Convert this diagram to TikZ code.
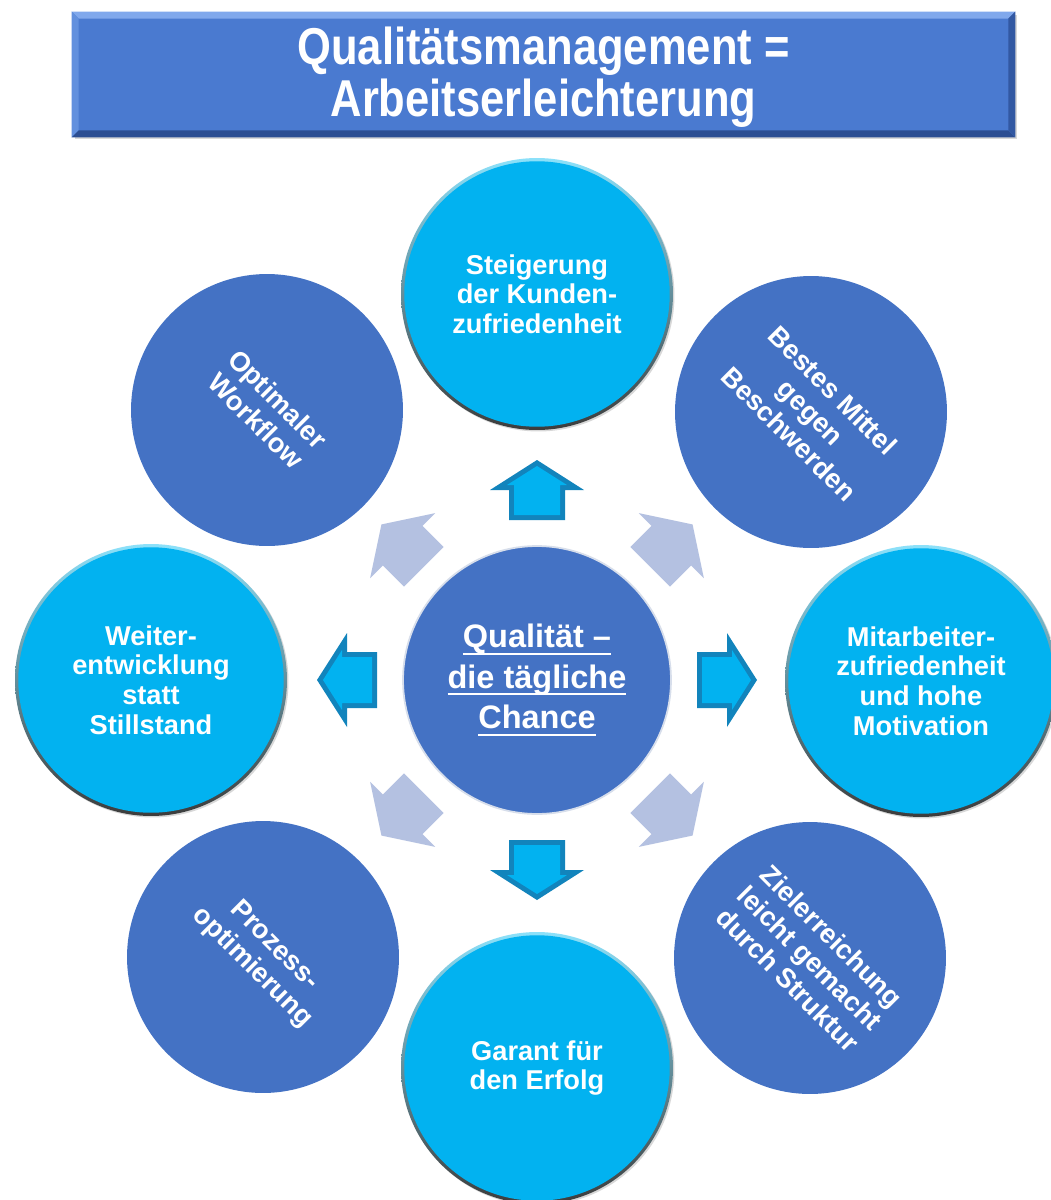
\documentclass[tikz,border=0pt]{standalone}
\usepackage{fontspec}
\setmainfont{Liberation Sans}
\newfontfamily\titlefamily[FakeStretch=0.84]{Liberation Sans}
\usetikzlibrary{shadows,calc}
\definecolor{dkblue}{RGB}{68,114,196}
\definecolor{cyanmain}{RGB}{2,178,240}
\definecolor{cyanlight}{RGB}{140,225,250}
\definecolor{rimgray}{RGB}{60,60,60}
\definecolor{rimmid}{RGB}{70,120,140}
\definecolor{arrowdark}{RGB}{18,132,188}
\definecolor{palearrow}{RGB}{180,193,225}
\definecolor{titleblue}{RGB}{74,122,208}
\definecolor{bevtop}{RGB}{128,168,236}
\definecolor{bevleft}{RGB}{98,144,222}
\definecolor{bevbottom}{RGB}{44,78,146}
\definecolor{bevright}{RGB}{50,88,162}
\definecolor{centerrim}{RGB}{215,222,235}
\newcommand\bodyfnt{\fontsize{15.5}{16.8}\selectfont\bfseries}
\newcommand\rotfnt{\fontsize{15.5}{17.6}\selectfont\bfseries}
\newcommand\centerfnt{\fontsize{18.5}{23}\selectfont\bfseries}
\newcommand\titlefnt{\titlefamily\fontsize{29.5}{29.5}\selectfont\bfseries}
\newcommand\ulin[1]{\setbox0\hbox{#1}\rlap{\rule[-4.2pt]{\wd0}{1.3pt}}\box0}
\begin{document}
\begin{tikzpicture}[x=0.02cm,y=-0.02cm,
  bubble/.style={circle, minimum size=5.44cm, inner sep=0pt, align=center, text=white, font=\bodyfnt},
  darkbubble/.style={bubble, fill=dkblue, font=\rotfnt},
  cyanbubble/.style={bubble, top color=cyanlight, middle color=rimmid, bottom color=rimgray,
     drop shadow={opacity=0.3, shadow xshift=0.03cm, shadow yshift=-0.03cm},
     path picture={\fill[cyanmain] (path picture bounding box.center) circle (2.655cm);}},
  centerbubble/.style={circle, minimum size=5.36cm, inner sep=0pt, fill=dkblue, draw=centerrim, line width=1pt, align=center, text=white, font=\centerfnt},
  titlebox/.style={fill=titleblue, minimum width=18.86cm, minimum height=2.5cm, inner sep=0pt, text=white, font=\titlefnt, align=center,
     drop shadow={opacity=0.3, shadow xshift=0.05cm, shadow yshift=-0.05cm}}
]
\useasboundingbox[fill=white] (0,0) rectangle (1051,1200);

% title
\node[titlebox] (title) at (543.5,74.5) {};
\node[text=white, font=\titlefnt, align=center, inner sep=0pt] (titletext) at (543.5,77) {Qualitätsmanagement =\\Arbeitserleichterung};
\fill[bevtop] (title.north west) -- (title.north east) -- ($(title.north east)+(-7,7)$) -- ($(title.north west)+(7,7)$) -- cycle;
\fill[bevleft] (title.north west) -- ($(title.north west)+(7,7)$) -- ($(title.south west)+(7,-7)$) -- (title.south west) -- cycle;
\fill[bevbottom] (title.south west) -- (title.south east) -- ($(title.south east)+(-7,-7)$) -- ($(title.south west)+(7,-7)$) -- cycle;
\fill[bevright] (title.north east) -- (title.south east) -- ($(title.south east)+(-7,-7)$) -- ($(title.north east)+(-7,7)$) -- cycle;

% circles
\node[centerbubble] (center) at (537,680) {\ulin{Qualität –}\\\ulin{die tägliche}\\\ulin{Chance}};
\node[cyanbubble] (top) at (537,294) {Steigerung\\der Kunden-\\zufriedenheit};
\node[darkbubble, rotate=-45] (topright) at (811,412) {Bestes Mittel\\gegen\\Beschwerden};
\node[cyanbubble] (right) at (921,681) {Mitarbeiter-\\zufriedenheit\\und hohe\\Motivation};
\node[darkbubble, rotate=-45] (bottomright) at (810,958) {Zielerreichung\\leicht gemacht\\durch Struktur};
\node[cyanbubble] (bottom) at (537,1068) {Garant für\\den Erfolg};
\node[darkbubble, rotate=-45] (bottomleft) at (263,957) {Prozess-\\optimierung};
\node[cyanbubble] (left) at (151,680) {Weiter-\\entwicklung\\statt\\Stillstand};
\node[darkbubble, rotate=-45] (topleft) at (267,410) {Optimaler\\Workflow};

% cardinal arrows (3D cyan)
\foreach \a in {0,90,180,270}{
  \begin{scope}[shift={(center.center)}, rotate=\a]
    \fill[arrowdark] (160,-28) -- (190,-28) -- (190,-47) -- (220,0) -- (190,47) -- (190,28) -- (160,28) -- cycle;
    \fill[cyanmain] (165,-23) -- (195,-23) -- (195,-30) -- (214,0) -- (195,30) -- (195,23) -- (165,23) -- cycle;
  \end{scope}
}
% diagonal arrows (pale)
\foreach \a in {45,135,225,315}{
  \begin{scope}[shift={(center.center)}, rotate=\a]
    \fill[palearrow] (160,-28) -- (190,-28) -- (190,-46) -- (220,0) -- (190,46) -- (190,28) -- (160,28) -- cycle;
  \end{scope}
}
\end{tikzpicture}
\end{document}
